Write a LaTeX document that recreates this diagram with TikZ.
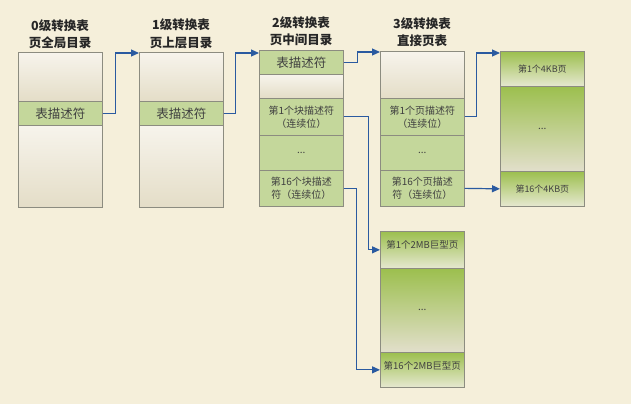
\documentclass[tikz,border=0pt]{standalone}
\usepackage{fontspec}
\setmainfont{Noto Sans CJK SC}
\usetikzlibrary{arrows.meta}
\definecolor{bgc}{HTML}{F5EFDA}
\definecolor{beigeT}{HTML}{F7F4EC}
\definecolor{beigeB}{HTML}{E4DDC7}
\definecolor{greenc}{HTML}{C4D79B}
\definecolor{pgT}{HTML}{9CBF4E}
\definecolor{pgB}{HTML}{E6E8D0}
\definecolor{pgM}{HTML}{E2DFCB}
\definecolor{cellborder}{HTML}{8C8C80}
\definecolor{textc}{HTML}{404040}
\definecolor{arrowc}{HTML}{2A5AA0}
\pgfdeclarelayer{bg}
\pgfsetlayers{bg,main}
\tikzset{
  cell/.style={draw=cellborder, line width=0.7pt, minimum width=84pt, anchor=north west,
    inner sep=0pt, align=center, text=textc, font=\fontsize{10}{13}\selectfont},
  beigecell/.style={cell, top color=beigeT, bottom color=beigeB},
  greencell/.style={cell, fill=greenc},
  pagecell/.style={cell, top color=pgT, bottom color=pgB},
  midpage/.style={cell, top color=pgT, bottom color=pgM},
  bigtext/.style={font=\fontsize{12.5}{14}\selectfont},
  title/.style={align=center, font=\bfseries\fontsize{12.5}{17.5}\selectfont, text=black!85},
  link/.style={draw=arrowc, line width=1.2pt, -{Triangle[length=8pt,width=7pt]}},
  shadowc/.style={fill=black, opacity=0.22}
}
\begin{document}
\begin{tikzpicture}[x=1pt,y=-1pt]
\useasboundingbox (0,0) rectangle (631,404);
\fill[bgc] (0,0) rectangle (631,404);
% titles
\node[title] (t0) at (60,34) {0级转换表\\页全局目录};
\node[title] (t1) at (181,34) {1级转换表\\页上层目录};
\node[title] (t2) at (301,31) {2级转换表\\页中间目录};
\node[title] (t3) at (422,32) {3级转换表\\直接页表};
% column 0
\node[beigecell, minimum height=49pt] (c0a) at (18,52) {};
\node[greencell, minimum height=24pt, bigtext] (c0b) at (18,101) {表描述符};
\node[beigecell, minimum height=82pt] (c0c) at (18,125) {};
% column 1
\node[beigecell, minimum height=49pt] (c1a) at (139,52) {};
\node[greencell, minimum height=24pt, bigtext] (c1b) at (139,101) {表描述符};
\node[beigecell, minimum height=82pt] (c1c) at (139,125) {};
% column 2
\node[greencell, minimum height=24pt, bigtext] (c2a) at (259,50) {表描述符};
\node[beigecell, minimum height=24pt] (c2b) at (259,74) {};
\node[greencell, minimum height=37pt] (c2c) at (259,98) {第1个块描述符\\（连续位）};
\node[greencell, minimum height=35pt] (c2d) at (259,135) {...};
\node[greencell, minimum height=36pt] (c2e) at (259,170) {第16个块描述\\符（连续位）};
% column 3
\node[beigecell, minimum height=47pt] (c3a) at (380,51) {};
\node[greencell, minimum height=37pt] (c3b) at (380,98) {第1个页描述符\\（连续位）};
\node[greencell, minimum height=35pt] (c3c) at (380,135) {...};
\node[greencell, minimum height=36pt] (c3d) at (380,170) {第16个页描述\\符（连续位）};
% column 4 (4KB pages)
\node[pagecell, minimum height=35pt, font=\fontsize{9}{11}\selectfont] (c4a) at (500,51) {第1个4KB页};
\node[midpage, minimum height=85pt] (c4b) at (500,86) {...};
\node[pagecell, minimum height=35pt, font=\fontsize{9}{11}\selectfont] (c4c) at (500,171) {第16个4KB页};
% column 5 (2MB pages)
\node[pagecell, minimum height=37pt, font=\fontsize{9.5}{11}\selectfont, text depth=10pt] (c5a) at (380,231) {第1个2MB巨型页};
\node[midpage, minimum height=84pt] (c5b) at (380,268) {...};
\node[pagecell, minimum height=35pt, font=\fontsize{9.5}{11}\selectfont, text depth=9pt] (c5c) at (380,352) {第16个2MB巨型页};
% shadows
\begin{pgfonlayer}{bg}
\foreach \a/\b in {c0a/c0c,c1a/c1c,c2a/c2e,c3a/c3d,c4a/c4c,c5a/c5c}{
  \fill[shadowc] ([shift={(2pt,-2pt)}]\a.north west) rectangle ([shift={(2pt,-2pt)}]\b.south east);
}
\end{pgfonlayer}
% connectors
\draw[link] (c0b.east) -- ++(13,0) |- ([yshift=-1pt]c1a.north west);
\draw[link] (c1b.east) -- ++(12,0) |- ([yshift=-3pt]c2a.north west);
\draw[link] (c2a.east) -- ++(14,0) |- ([yshift=-1pt]c3a.north west);
\draw[link] (c3b.east) -- ++(12,0) |- ([yshift=-2pt]c4a.north west);
\draw[link] (c3d.east) -- (c4c.west);
\draw[link] (c2c.east) -- ++(25,0) |- (c5a.west);
\draw[link] (c2e.east) -- ++(13,0) |- (c5c.west);
\end{tikzpicture}
\end{document}
